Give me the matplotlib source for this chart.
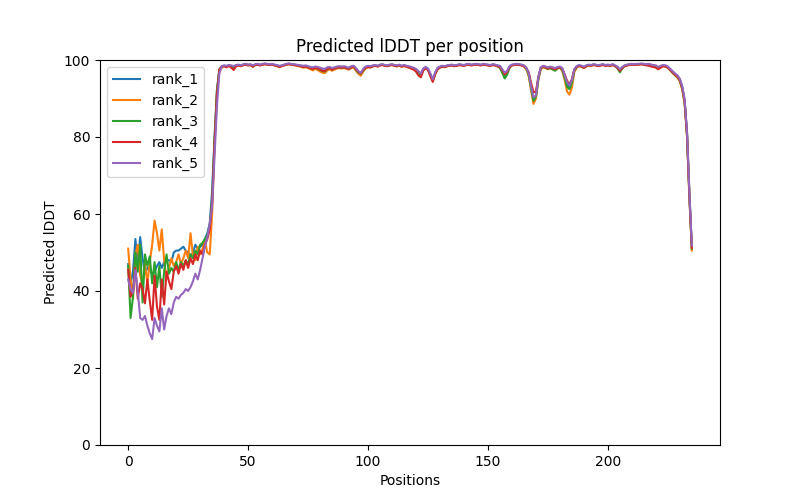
import numpy as np
import matplotlib
matplotlib.use("Agg")
import matplotlib.pyplot as plt

# per-residue plddt for the 5 ranked models
rank_1 = [47.0, 42.0, 45.0, 53.5, 47.0, 54.0, 48.5, 44.5, 46.0, 45.5,
          44.5, 45.0, 46.5, 47.5, 46.0, 47.5, 48.0, 48.0, 47.5, 50.0,
          50.5, 50.5, 51.0, 51.5, 50.5, 50.0, 49.0, 50.0, 52.0, 51.0,
          51.5, 52.0, 53.5, 55.0, 57.5, 66.0, 80.0, 92.0, 97.5, 98.2,
          98.5, 98.3, 98.6, 98.4, 98.2, 98.6, 98.7, 98.5, 98.8, 98.9,
          98.7, 98.8, 98.4, 98.8, 98.9, 98.7, 98.9, 99.0, 98.9, 98.8,
          98.9, 98.7, 98.6, 98.3, 98.5, 98.7, 98.9, 99.0, 98.9, 98.8,
          98.7, 98.6, 98.5, 98.3, 98.4, 98.2, 98.0, 97.8, 98.1, 97.9,
          97.6, 97.3, 97.2, 97.8, 98.0, 97.6, 97.9, 98.1, 98.2, 98.1,
          98.2, 98.0, 97.8, 98.2, 98.4, 97.6, 96.8, 96.3, 97.4, 98.1,
          98.3, 98.2, 98.5, 98.6, 98.4, 98.7, 98.8, 98.6, 98.5, 98.7,
          98.8, 98.6, 98.5, 98.7, 98.4, 98.6, 98.4, 98.2, 98.0, 97.8,
          97.5, 96.8, 96.2, 97.6, 98.1, 97.7, 96.2, 94.8, 96.6, 97.8,
          98.2, 98.4, 98.3, 98.5, 98.6, 98.7, 98.5, 98.6, 98.8, 98.7,
          98.6, 98.8, 98.9, 98.7, 98.8, 98.9, 98.8, 98.7, 98.9, 98.8,
          98.7, 98.6, 98.8, 98.7, 98.5, 98.3, 97.2, 96.0, 96.7, 98.2,
          98.7, 98.8, 98.9, 98.8, 98.7, 98.5, 97.9, 96.5, 93.0, 89.0,
          90.3, 95.2, 97.9, 98.4, 98.2, 97.9, 98.2, 97.9, 97.6, 98.0,
          98.2, 97.6, 95.8, 93.6, 92.8, 94.5, 97.4, 98.3, 98.6, 98.4,
          98.1, 98.5, 98.7, 98.6, 98.8, 98.7, 98.5, 98.7, 98.8, 98.6,
          98.7, 98.6, 98.8, 98.5, 98.1, 97.3, 98.0, 98.5, 98.7, 98.8,
          98.9, 98.8, 98.9, 98.9, 99.0, 98.9, 98.8, 98.9, 98.7, 98.6,
          98.4, 97.9, 98.3, 98.6, 98.5, 98.2, 97.6, 96.9, 96.4, 95.9,
          95.0, 93.0, 89.5, 81.0, 65.0, 51.5]

rank_2 = [51.0, 43.0, 38.0, 49.5, 52.0, 44.0, 41.5, 47.0, 42.0, 47.5,
          52.0, 58.3, 55.0, 50.5, 56.0, 48.0, 43.0, 46.0, 48.5, 46.5,
          47.5, 49.5, 47.0, 48.5, 50.5, 48.5, 55.0, 49.0, 48.0, 51.5,
          49.5, 51.0, 53.0, 50.0, 49.5, 60.0, 78.0, 91.0, 97.0, 98.0,
          98.4, 98.2, 98.5, 98.3, 98.0, 98.5, 98.6, 98.4, 98.7, 98.8,
          98.6, 98.7, 98.2, 98.7, 98.8, 98.6, 98.8, 98.9, 98.8, 98.7,
          98.8, 98.6, 98.4, 98.1, 98.4, 98.6, 98.8, 98.9, 98.8, 98.7,
          98.5, 98.4, 98.2, 98.0, 98.1, 97.9, 97.6, 97.3, 97.7, 97.4,
          97.0, 96.7, 96.6, 97.3, 97.6, 97.2, 97.5, 97.8, 97.9, 97.8,
          97.9, 97.7, 97.5, 97.9, 98.1, 97.2, 96.4, 95.9, 97.0, 97.8,
          98.1, 98.0, 98.3, 98.5, 98.3, 98.6, 98.7, 98.5, 98.4, 98.6,
          98.7, 98.5, 98.3, 98.6, 98.2, 98.4, 98.2, 98.0, 97.8, 97.6,
          97.3, 96.6, 96.0, 97.4, 98.0, 97.5, 96.0, 94.6, 96.4, 97.6,
          98.0, 98.2, 98.1, 98.4, 98.5, 98.6, 98.4, 98.5, 98.7, 98.6,
          98.5, 98.7, 98.8, 98.6, 98.7, 98.8, 98.7, 98.6, 98.8, 98.7,
          98.6, 98.5, 98.7, 98.6, 98.3, 98.0, 97.0, 96.3, 96.8, 98.0,
          98.6, 98.7, 98.8, 98.7, 98.6, 98.3, 97.5, 95.8, 92.0, 88.6,
          90.0, 94.8, 97.6, 98.1, 97.9, 97.6, 97.9, 97.6, 97.4, 97.8,
          98.0, 97.1, 94.8, 91.8, 91.0, 92.8, 96.9, 98.0, 98.4, 98.2,
          97.9, 98.3, 98.6, 98.5, 98.7, 98.6, 98.4, 98.6, 98.7, 98.5,
          98.6, 98.5, 98.7, 98.4, 98.0, 97.2, 97.9, 98.4, 98.6, 98.7,
          98.8, 98.7, 98.8, 98.8, 98.9, 98.8, 98.7, 98.8, 98.6, 98.4,
          98.1, 97.7, 98.1, 98.4, 98.3, 98.0, 97.3, 96.6, 96.0, 95.4,
          94.4, 92.3, 88.7, 80.0, 64.0, 50.5]

rank_3 = [46.5, 33.0, 38.5, 50.0, 45.0, 52.0, 37.0, 49.5, 46.5, 49.0,
          42.0, 47.5, 41.0, 46.5, 38.5, 45.0, 49.5, 44.5, 46.0, 45.0,
          47.5, 45.5, 47.5, 46.5, 48.0, 47.0, 49.5, 48.5, 50.5, 49.5,
          52.0, 52.5, 53.5, 54.5, 57.0, 64.0, 79.0, 92.0, 97.5, 98.2,
          98.5, 98.3, 98.6, 98.4, 98.1, 98.6, 98.7, 98.5, 98.8, 98.9,
          98.7, 98.8, 98.3, 98.8, 98.9, 98.7, 98.9, 99.0, 98.9, 98.8,
          98.9, 98.7, 98.5, 98.2, 98.5, 98.7, 98.9, 99.0, 98.9, 98.8,
          98.7, 98.6, 98.4, 98.2, 98.3, 98.1, 97.9, 97.7, 98.0, 97.8,
          97.4, 97.1, 97.0, 97.6, 97.9, 97.5, 97.8, 98.0, 98.1, 98.0,
          98.1, 97.9, 97.7, 98.1, 98.3, 97.5, 96.7, 96.4, 97.3, 98.0,
          98.3, 98.2, 98.4, 98.6, 98.4, 98.7, 98.8, 98.6, 98.5, 98.7,
          98.8, 98.6, 98.5, 98.7, 98.4, 98.6, 98.4, 98.2, 97.9, 97.7,
          97.3, 96.4, 95.8, 97.4, 98.0, 97.6, 96.0, 94.6, 96.5, 97.7,
          98.1, 98.3, 98.2, 98.5, 98.6, 98.7, 98.5, 98.6, 98.8, 98.7,
          98.6, 98.8, 98.9, 98.7, 98.8, 98.9, 98.8, 98.7, 98.9, 98.8,
          98.7, 98.6, 98.8, 98.7, 98.4, 98.0, 96.6, 95.2, 96.2, 98.0,
          98.7, 98.8, 98.9, 98.8, 98.7, 98.5, 97.8, 96.2, 92.6, 89.4,
          90.6, 95.0, 97.8, 98.3, 98.0, 97.7, 97.9, 97.5, 97.2, 97.8,
          98.1, 97.4, 95.4, 93.0, 92.4, 94.0, 97.2, 98.2, 98.5, 98.3,
          98.0, 98.4, 98.7, 98.6, 98.8, 98.7, 98.5, 98.7, 98.8, 98.6,
          98.7, 98.6, 98.8, 98.4, 97.8, 96.8, 97.8, 98.5, 98.7, 98.8,
          98.9, 98.8, 98.9, 98.9, 99.0, 98.9, 98.8, 98.9, 98.7, 98.6,
          98.3, 97.8, 98.2, 98.5, 98.4, 98.1, 97.4, 96.7, 96.1, 95.6,
          94.7, 92.6, 89.0, 80.5, 64.5, 51.0]

rank_4 = [45.5, 38.5, 40.0, 46.0, 38.0, 42.0, 40.5, 36.8, 43.0, 37.5,
          32.5, 44.0, 36.0, 32.5, 43.0, 36.5, 45.0, 42.5, 40.5, 45.0,
          46.5, 44.5, 47.0, 45.5, 48.0, 46.0, 48.5, 47.0, 49.5, 48.0,
          50.5, 49.5, 52.0, 53.5, 56.0, 63.0, 78.0, 91.0, 97.5, 98.3,
          98.4, 98.1, 98.5, 98.0, 97.4, 98.4, 98.6, 98.4, 98.7, 98.8,
          98.6, 98.7, 98.3, 98.7, 98.8, 98.6, 98.8, 98.9, 98.8, 98.7,
          98.8, 98.6, 98.5, 98.2, 98.4, 98.6, 98.8, 98.9, 98.8, 98.7,
          98.6, 98.5, 98.4, 98.2, 98.3, 98.1, 97.9, 97.7, 98.0, 97.8,
          97.5, 97.2, 97.1, 97.7, 97.9, 97.5, 97.8, 98.0, 98.1, 98.0,
          98.1, 97.9, 97.7, 98.1, 98.3, 97.6, 96.9, 96.5, 97.4, 98.0,
          98.2, 98.1, 98.4, 98.5, 98.3, 98.6, 98.7, 98.5, 98.4, 98.6,
          98.7, 98.5, 98.4, 98.6, 98.3, 98.5, 98.3, 98.1, 97.8, 97.5,
          97.0, 96.0, 95.5, 97.2, 97.9, 97.4, 95.8, 94.3, 96.3, 97.6,
          98.1, 98.3, 98.2, 98.4, 98.5, 98.6, 98.4, 98.5, 98.7, 98.6,
          98.5, 98.7, 98.8, 98.6, 98.7, 98.8, 98.7, 98.6, 98.8, 98.7,
          98.6, 98.5, 98.7, 98.6, 98.4, 98.2, 97.3, 96.3, 96.9, 98.2,
          98.6, 98.7, 98.8, 98.7, 98.6, 98.4, 97.9, 96.8, 94.0, 91.6,
          91.8, 95.6, 97.9, 98.3, 98.1, 97.8, 98.1, 97.8, 97.6, 97.9,
          98.1, 97.7, 96.2, 94.6, 93.6, 95.0, 97.5, 98.2, 98.5, 98.3,
          98.0, 98.4, 98.6, 98.5, 98.7, 98.6, 98.4, 98.6, 98.7, 98.5,
          98.6, 98.5, 98.7, 98.4, 98.0, 97.2, 97.9, 98.4, 98.6, 98.7,
          98.8, 98.7, 98.8, 98.8, 98.9, 98.8, 98.6, 98.5, 98.3, 98.2,
          98.0, 97.6, 98.0, 98.4, 98.3, 98.0, 97.4, 96.8, 96.2, 95.7,
          94.8, 92.8, 89.2, 80.7, 64.7, 51.2]

rank_5 = [43.0, 40.5, 39.5, 45.5, 40.0, 33.0, 32.5, 33.5, 31.0, 29.0,
          27.5, 33.0, 31.0, 29.5, 35.5, 30.0, 33.5, 35.5, 34.0, 37.0,
          38.5, 38.0, 39.0, 39.5, 40.5, 40.0, 41.0, 42.5, 44.5, 43.0,
          45.5, 48.5, 51.5, 54.0, 57.5, 62.0, 75.0, 88.0, 96.5, 98.4,
          98.6, 98.5, 98.7, 98.6, 98.4, 98.7, 98.8, 98.6, 98.9, 99.0,
          98.8, 98.9, 98.6, 98.9, 99.0, 98.8, 99.0, 99.1, 99.0, 98.9,
          99.0, 98.8, 98.7, 98.5, 98.6, 98.8, 99.0, 99.1, 99.0, 98.9,
          98.8, 98.7, 98.6, 98.5, 98.6, 98.4, 98.2, 98.1, 98.3, 98.2,
          98.0, 97.8, 97.7, 98.1, 98.2, 97.9, 98.1, 98.3, 98.4, 98.3,
          98.4, 98.2, 98.0, 98.4, 98.5, 97.9, 97.1, 96.7, 97.7, 98.3,
          98.5, 98.4, 98.6, 98.7, 98.5, 98.8, 98.9, 98.7, 98.6, 98.8,
          98.9, 98.7, 98.6, 98.8, 98.5, 98.7, 98.5, 98.4, 98.2, 98.0,
          97.7, 97.1, 96.5, 97.8, 98.2, 97.8, 96.5, 95.0, 96.8, 98.0,
          98.3, 98.5, 98.4, 98.6, 98.7, 98.8, 98.6, 98.7, 98.9, 98.8,
          98.7, 98.9, 99.0, 98.8, 98.9, 99.0, 98.9, 98.8, 99.0, 98.9,
          98.8, 98.7, 98.9, 98.8, 98.6, 98.5, 97.6, 96.7, 97.2, 98.4,
          98.8, 98.9, 99.0, 98.9, 98.8, 98.6, 98.0, 96.6, 93.2, 90.3,
          90.8, 95.4, 98.1, 98.5, 98.3, 98.1, 98.3, 98.1, 97.9, 98.2,
          98.3, 97.9, 96.2, 94.2, 93.4, 94.8, 97.6, 98.4, 98.7, 98.5,
          98.3, 98.6, 98.8, 98.7, 98.9, 98.8, 98.6, 98.8, 98.9, 98.7,
          98.8, 98.7, 98.9, 98.6, 98.3, 97.6, 98.2, 98.6, 98.8, 98.9,
          99.0, 98.9, 99.0, 99.0, 99.1, 99.0, 98.9, 99.0, 98.8, 98.7,
          98.6, 98.2, 98.5, 98.7, 98.6, 98.3, 97.7, 97.1, 96.5, 96.0,
          95.1, 93.2, 89.8, 81.3, 65.5, 51.8]

ranks = [rank_1, rank_2, rank_3, rank_4, rank_5]
names = ["rank_1", "rank_2", "rank_3", "rank_4", "rank_5"]

fig = plt.figure(figsize=(8, 5), dpi=100)
for vals, name in zip(ranks, names):
    plt.plot(np.arange(len(vals)), vals, label=name)

plt.title("Predicted lDDT per position")
plt.xlabel("Positions")
plt.ylabel("Predicted lDDT")
plt.ylim(0, 100)
plt.legend(loc="upper left")

plt.savefig("out.png")
